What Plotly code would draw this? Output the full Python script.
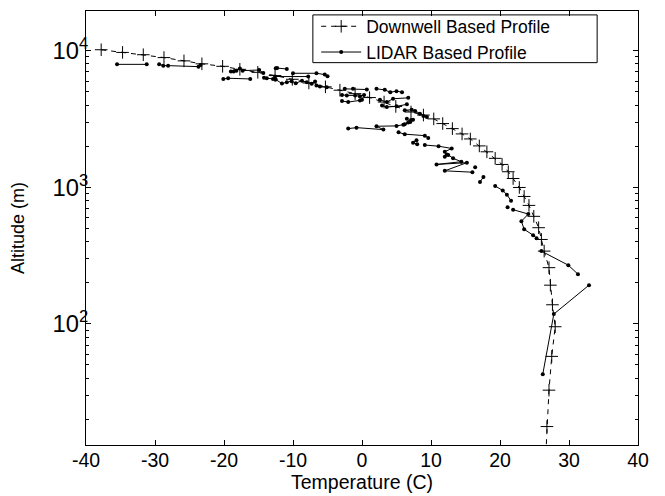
import plotly.graph_objects as go

# Downwell based profile (temperature in C, altitude in m)
down_temp = [-37.8, -34.7, -31.7, -28.7, -25.8, -23.2, -20.2, -17.7, -15.1, -12.6,
             -10.1, -7.7, -5.3, -3.2, -1.0, 1.1, 3.2, 4.9, 7.1, 8.9,
             10.4, 11.7, 13.1, 14.5, 15.7, 17.0, 18.1, 19.3, 20.3, 21.2,
             21.9, 22.8, 23.5, 24.2, 24.9, 25.6, 26.0, 26.4, 27.1, 27.3,
             27.6, 28.0, 27.5, 27.1, 26.8, 26.6]
down_alt = [10170, 9720, 9350, 8910, 8430, 8020, 7690, 7310, 6950, 6580,
            6180, 5810, 5440, 5140, 4850, 4540, 4210, 3910, 3560, 3380,
            3170, 2930, 2690, 2460, 2260, 2010, 1820, 1630, 1470, 1300,
            1160, 997, 857, 737, 613, 506, 415, 341, 258, 192,
            138, 95.3, 57.8, 32.7, 17.7, 10]

# LIDAR based profile (None separates gaps in the record)
lidar_temp = [-35.5, -31.2, None,
              -29.4, -28.8, -28.1, -23.7, -23.4, None,
              -19.0, -18.6, -18.2, -17.7, -17.3, -14.9, -14.3, None,
              -20.1, -19.4, -16.2, None,
              -12.5, -12.3, -10.9, None,
              -14.2, -13.8, -12.9, -12.6, -7.8, None,
              -10.0, -6.6, -5.4, -5.0, None,
              -12.5, -11.6, -10.9, -10.2, -9.6, -8.7, -8.0, -7.3, -6.8, -6.6, -6.1, -5.1, None,
              -2.5, -1.3, 0.7, None,
              -2.9, -2.2, -1.0, -0.3, 0.3, 0.0, None,
              -2.9, -2.0, -0.3, None,
              2.1, 3.3, 4.1, 5.0, 5.8, None,
              2.6, 3.6, 4.5, 6.7, None,
              2.9, 3.6, 5.0, 6.5, None,
              6.2, 7.2, 7.7, 8.4, 8.9, 9.4, None,
              6.5, 7.0, 7.4, 6.2, None,
              -2.0, -0.8, 3.1, 2.1, 5.0, 6.0, 6.7, 7.1, None,
              5.3, 6.2, 9.1, 9.6, None,
              7.9, 7.4, 8.0, None,
              9.1, 11.1, 13.0, 12.0, 12.3, 12.0, 12.5, 13.2, 14.4, 10.8, 15.2, 12.0, 16.0, None,
              16.4, None,
              17.1, 17.6, None,
              19.3, 20.4, 21.0, 21.6, None,
              21.1, None,
              21.9, 24.1, 23.1, 23.5, 24.8, 25.3, None,
              26.0, 29.9, 31.3, None,
              32.9, 27.8, 26.2]
lidar_alt = [7950, 7950, None,
             7950, 7780, 7780, 7650, 7860, None,
             7035, 7035, 7150, 7400, 7150, 7230, 6870, None,
             6215, 6290, 6215, None,
             7435, 7470, 7350, None,
             6340, 6290, 6215, 6470, 6470, None,
             6840, 6840, 6690, 6500, None,
             6150, 5750, 5880, 5980, 5780, 6030, 5880, 5735, 5950, 5565, 5470, 5410, None,
             5260, 5260, 5200, None,
             4750, 4710, 4710, 4630, 4750, 4370, None,
             4280, 4210, 4330, None,
             5260, 5170, 4970, 5060, 4970, None,
             4370, 4210, 4450, 4520, None,
             3980, 3870, 3915, 4050, None,
             3660, 3700, 3620, 3460, 3330, 3270, None,
             3180, 3010, 3130, 2900, None,
             2690, 2735, 2645, 2800, 2815, 2875, 2985, 3110, None,
             2525, 2450, 2390, 2300, None,
             2210, 2120, 2070, None,
             2040, 2000, 1925, 1820, 1740, 1675, 1725, 1630, 1540, 1470, 1515, 1320, 1290, None,
             1400, None,
             1093, 1190, None,
             1022, 948, 882, 798, None,
             713, None,
             686, 637, 564, 493, 446, 424, None,
             341, 269, 231, None,
             192, 118, 42.8]

x_ticks = [-40, -30, -20, -10, 0, 10, 20, 30, 40]

FONT = "Liberation Sans, Arial, Helvetica, sans-serif"

fig = go.Figure()
fig.add_trace(go.Scatter(
    x=down_temp, y=down_alt, mode="lines+markers",
    name="Downwell Based Profile",
    line=dict(color="black", width=1, dash="5px,5px"),
    marker=dict(symbol="cross-thin", size=9, line=dict(color="black", width=1)),
))
fig.add_trace(go.Scatter(
    x=lidar_temp, y=lidar_alt, mode="lines+markers",
    name="LIDAR Based Profile",
    connectgaps=False,
    line=dict(color="black", width=1),
    marker=dict(symbol="circle", size=4, color="black"),
))

fig.update_layout(
    width=657, height=488,
    margin=dict(l=78, r=27, t=0, b=51),
    paper_bgcolor="white", plot_bgcolor="white",
    font=dict(family=FONT, size=18, color="black"),
    showlegend=True,
    legend=dict(
        x=0.417, y=1.006, xanchor="left", yanchor="top",
        borderwidth=0, bgcolor="rgba(0,0,0,0)",
        font=dict(family=FONT, size=17.5, color="black"),
        tracegroupgap=0, itemwidth=40,
    ),
    shapes=[dict(type="rect", xref="paper", yref="paper",
                 x0=0.411, x1=0.926, y0=0.881, y1=0.991,
                 line=dict(color="black", width=1), fillcolor="rgba(0,0,0,0)",
                 layer="above")],
)
fig.update_xaxes(
    range=[-40, 40], tickvals=x_ticks, ticktext=[str(v) for v in x_ticks],
    ticks="inside", ticklen=5, tickcolor="black", tickwidth=1,
    showline=True, linecolor="black", linewidth=1, mirror="ticks",
    showgrid=False, zeroline=False,
    title=dict(text="Temperature (C)", standoff=0, font=dict(size=19.5)),
    tickfont=dict(size=19.5),
    ticklabelstandoff=-2,
)
fig.update_yaxes(
    type="log", range=[1.113, 4.291], dtick=1, exponentformat="power",
    ticks="inside", ticklen=5, tickcolor="black", tickwidth=1,
    minor=dict(ticks="inside", ticklen=3, dtick="D1", tickcolor="black", showgrid=False),
    showline=True, linecolor="black", linewidth=1, mirror="ticks",
    showgrid=False, zeroline=False,
    title=dict(text="Altitude (m)", standoff=26, font=dict(size=18)),
    tickfont=dict(size=19),
    ticklabelstandoff=-7,
)

fig.write_html("out.html")
